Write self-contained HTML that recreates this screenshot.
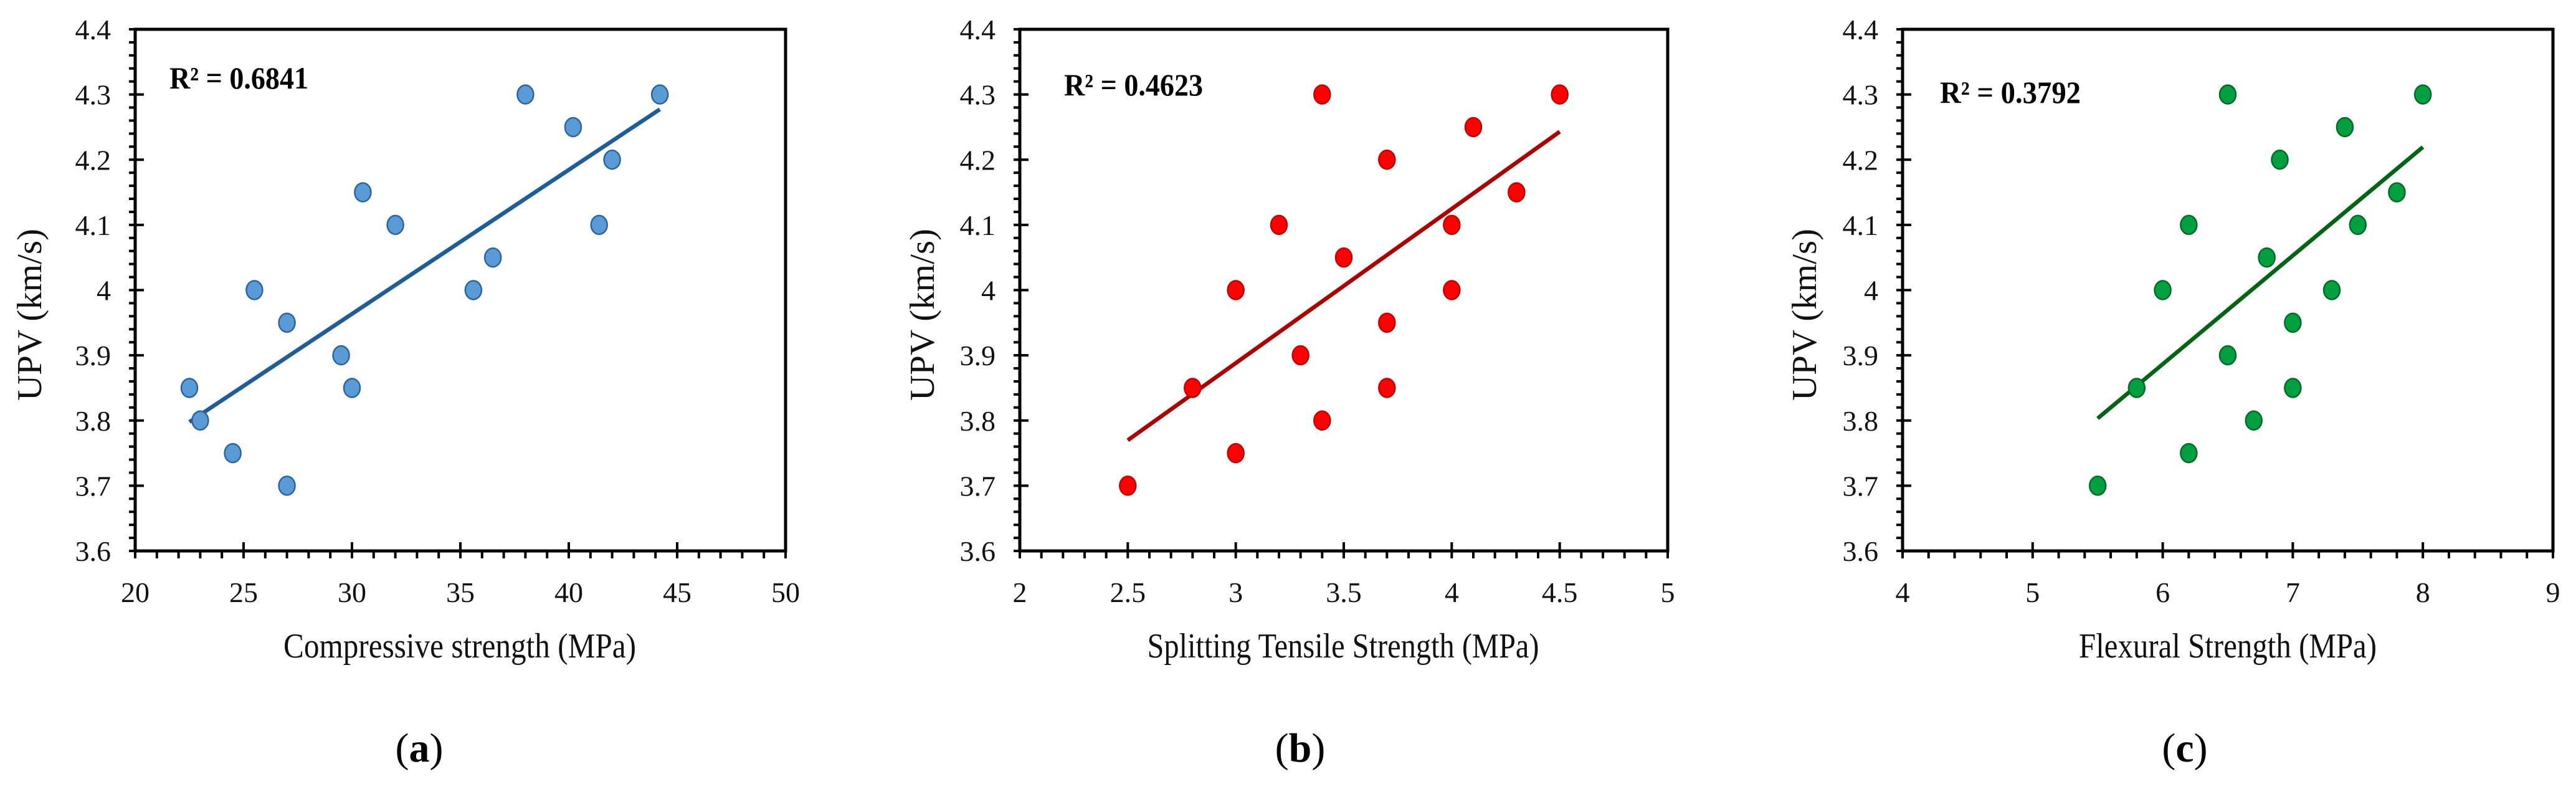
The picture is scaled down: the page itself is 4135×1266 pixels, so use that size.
<!DOCTYPE html>
<html><head><meta charset="utf-8"><title>UPV correlations</title>
<style>html,body{margin:0;padding:0;background:#fff;}svg{display:block;}</style></head>
<body>
<svg id="fig" xmlns="http://www.w3.org/2000/svg" width="4135" height="1266" viewBox="0 0 4135 1266" font-family="Liberation Serif, serif"></svg>
<script>
// Panel (a) data: compressive strength vs UPV
const compX = [22.5, 23, 24.5, 25.5, 27, 27, 29.5, 30, 30.5, 32, 35.6, 36.5, 38, 40.2, 41.4, 42, 44.2];
const compY = [3.85, 3.8, 3.75, 4.0, 3.95, 3.7, 3.9, 3.85, 4.15, 4.1, 4.0, 4.05, 4.3, 4.25, 4.1, 4.2, 4.3];
const compTicks = [20, 25, 30, 35, 40, 45, 50];
// Panel (b) data: splitting tensile strength vs UPV
const splitX = [2.5, 2.8, 3, 3, 3.2, 3.3, 3.4, 3.4, 3.5, 3.7, 3.7, 3.7, 4, 4, 4.1, 4.3, 4.5];
const splitY = [3.7, 3.85, 4.0, 3.75, 4.1, 3.9, 4.3, 3.8, 4.05, 4.2, 3.95, 3.85, 4.1, 4.0, 4.25, 4.15, 4.3];
const splitTicks = [2, 2.5, 3, 3.5, 4, 4.5, 5];
// Panel (c) data: flexural strength vs UPV
const flexX = [5.5, 5.8, 6, 6.2, 6.2, 6.5, 6.5, 6.7, 6.8, 6.9, 7, 7, 7.3, 7.4, 7.5, 7.8, 8];
const flexY = [3.7, 3.85, 4.0, 4.1, 3.75, 4.3, 3.9, 3.8, 4.05, 4.2, 3.95, 3.85, 4.0, 4.25, 4.1, 4.15, 4.3];
const flexTicks = [4, 5, 6, 7, 8, 9];
const upvTicks = [3.6, 3.7, 3.8, 3.9, 4.0, 4.1, 4.2, 4.3, 4.4];
const upvTickLabels = ["3.6", "3.7", "3.8", "3.9", "4", "4.1", "4.2", "4.3", "4.4"];
const r2Labels = ["R\u00B2 = 0.6841", "R\u00B2 = 0.4623", "R\u00B2 = 0.3792"];

const NS = "http://www.w3.org/2000/svg";
const svg = document.getElementById('fig');
function mk(tag, attrs, parent) {
  const e = document.createElementNS(NS, tag);
  for (const k in attrs) e.setAttribute(k, attrs[k]);
  (parent || svg).appendChild(e);
  return e;
}

const panels = [
  {id:'a', L:217, R:1261, xs:compX, ys:compY, ticks:compTicks, minor:1, fill:'#5b9bd5', stroke:'#2c64a0', line:'#1f5c99',
   title:'Compressive strength (MPa)', tx:738, tw:566, ytx:47, r2x:272, r2w:223, r2y:142, cap:'a', capx:673},
  {id:'b', L:1637, R:2677, xs:splitX, ys:splitY, ticks:splitTicks, minor:0.1, fill:'#ff0000', stroke:'#c00000', line:'#aa0000',
   title:'Splitting Tensile Strength (MPa)', tx:2156, tw:629, ytx:1480, r2x:1708, r2w:223, r2y:153, cap:'b', capx:2087},
  {id:'c', L:3054, R:4098, xs:flexX, ys:flexY, ticks:flexTicks, minor:0.2, fill:'#00a040', stroke:'#006a28', line:'#006414',
   title:'Flexural Strength (MPa)', tx:3576, tw:478, ytx:2896, r2x:3114, r2w:226, r2y:165, cap:'c', capx:3507}
];
const T = 47, B = 884, Y0 = 3.6, Y1 = 4.4;

panels.forEach(p => {
  const g = mk('g', {});
  
  
  const x0 = p.ticks[0], x1 = p.ticks[p.ticks.length - 1];
  const sx = v => p.L + (v - x0) / (x1 - x0) * (p.R - p.L);
  const sy = v => B - (v - Y0) / (Y1 - Y0) * (B - T);

  const frame = mk('rect', {x:p.L, y:T, width:p.R - p.L, height:B - T, fill:'none', stroke:'#000', 'stroke-width':5}, g);
  
  

  const nMinY = Math.round((Y1 - Y0) / 0.02);
  for (let i = 0; i <= nMinY; i++) {
    const y = sy(Y0 + i * 0.02);
    const major = i % 5 === 0;
    mk('line', {x1:p.L - 10, x2:major ? p.L + 14 : p.L, y1:y, y2:y, stroke:'#000', 'stroke-width':4}, g);
  }
  upvTicks.forEach((v, i) => {
    const t = mk('text', {x:p.L - 39, y:sy(v) + 16, 'font-size':46, 'text-anchor':'end', fill:'#111'}, g);
    
    
    t.textContent = upvTickLabels[i];
  });
  const nMinX = Math.round((x1 - x0) / p.minor);
  const step = p.ticks[1] - p.ticks[0];
  for (let i = 0; i <= nMinX; i++) {
    const v = x0 + i * p.minor;
    const x = sx(v);
    const rel = (v - x0) / step;
    const major = Math.abs(rel - Math.round(rel)) < 1e-6;
    mk('line', {x1:x, x2:x, y1:major ? B - 14 : B, y2:B + 12, stroke:'#000', 'stroke-width':4}, g);
  }
  p.ticks.forEach(v => {
    const t = mk('text', {x:sx(v), y:966, 'font-size':46, 'text-anchor':'middle', fill:'#111'}, g);
    
    
    t.textContent = String(v);
  });

  const n = p.xs.length;
  const mx = p.xs.reduce((a, b) => a + b, 0) / n, my = p.ys.reduce((a, b) => a + b, 0) / n;
  let sxy = 0, sxx = 0;
  for (let i = 0; i < n; i++) { sxy += (p.xs[i] - mx) * (p.ys[i] - my); sxx += (p.xs[i] - mx) ** 2; }
  const m = sxy / sxx, b = my - m * mx;
  const xmin = Math.min(...p.xs), xmax = Math.max(...p.xs);
  const tl = mk('line', {x1:sx(xmin), y1:sy(m * xmin + b), x2:sx(xmax), y2:sy(m * xmax + b), stroke:p.line, 'stroke-width':6.5}, g);
  
  

  for (let i = 0; i < n; i++) {
    const c = mk('ellipse', {cx:sx(p.xs[i]), cy:sy(p.ys[i]), rx:13, ry:15, fill:p.fill, stroke:p.stroke, 'stroke-width':2.5}, g);
    
    
  }

  const r = mk('text', {x:p.r2x, y:p.r2y, 'font-size':50, 'font-weight':'bold', textLength:p.r2w, lengthAdjust:'spacingAndGlyphs', fill:'#000'}, g);
  
  
  r.textContent = r2Labels[panels.indexOf(p)];

  const xt = mk('text', {x:p.tx, y:1055, 'font-size':56, 'text-anchor':'middle', textLength:p.tw, lengthAdjust:'spacingAndGlyphs', fill:'#111'}, g);
  
  
  xt.textContent = p.title;

  const yt = mk('text', {x:0, y:0, 'font-size':56, 'text-anchor':'middle', textLength:276, lengthAdjust:'spacingAndGlyphs', fill:'#111',
    transform:'translate(' + (p.ytx + 19) + ',505) rotate(-90)'}, g);
  
  
  yt.textContent = 'UPV (km/s)';

  const cp = mk('text', {x:p.capx, y:1222, 'font-size':66, 'text-anchor':'middle', fill:'#000'}, g);
  
  
  const s1 = mk('tspan', {}, cp); s1.textContent = '(';
  const s2 = mk('tspan', {'font-weight':'bold'}, cp); s2.textContent = p.cap;
  const s3 = mk('tspan', {}, cp); s3.textContent = ')';
});
</script>
</body></html>
